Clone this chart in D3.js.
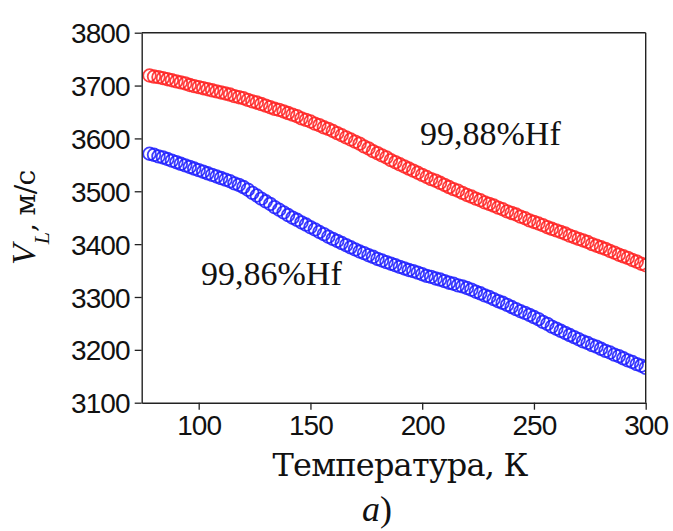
<!DOCTYPE html>
<html>
<head>
<meta charset="utf-8">
<script src="https://cdn.jsdelivr.net/npm/d3@7"></script>
<style>
  html, body { margin: 0; padding: 0; background: #fff; }
  svg { display: block; }
</style>
</head>
<body>
<svg id="chart" width="673" height="531"></svg>
<script>
// Longitudinal sound velocity of hafnium vs temperature, two purities
const temperature = [
  78, 80, 82, 84, 86, 88, 90, 92, 94, 96, 98, 100, 102, 104, 106, 108, 110, 112, 114, 116,
  118, 120, 122, 124, 126, 128, 130, 132, 134, 136, 138, 140, 142, 144, 146, 148, 150, 152,
  154, 156, 158, 160, 162, 164, 166, 168, 170, 172, 174, 176, 178, 180, 182, 184, 186, 188,
  190, 192, 194, 196, 198, 200, 202, 204, 206, 208, 210, 212, 214, 216, 218, 220, 222, 224,
  226, 228, 230, 232, 234, 236, 238, 240, 242, 244, 246, 248, 250, 252, 254, 256, 258, 260,
  262, 264, 266, 268, 270, 272, 274, 276, 278, 280, 282, 284, 286, 288, 290, 292, 294, 296,
  298, 300
];

const velocityHf9988 = [
  3719, 3717, 3716, 3714, 3712, 3710, 3708, 3706, 3704, 3701, 3699, 3697, 3695, 3693, 3691, 3689, 3687, 3685, 3683, 3680,
  3678, 3676, 3673, 3670, 3668, 3665, 3662, 3659, 3656, 3654, 3651, 3648, 3645, 3642, 3638, 3635, 3632, 3628,
  3625, 3621, 3618, 3614, 3610, 3606, 3602, 3598, 3594, 3590, 3585, 3581, 3576, 3572, 3568, 3564, 3559, 3555,
  3551, 3547, 3543, 3539, 3535, 3531, 3527, 3523, 3520, 3516, 3512, 3508, 3504, 3501, 3497, 3493, 3490, 3486,
  3483, 3479, 3476, 3473, 3469, 3466, 3462, 3459, 3456, 3452, 3449, 3445, 3442, 3439, 3436, 3432, 3429, 3426,
  3423, 3420, 3416, 3413, 3410, 3407, 3404, 3400, 3397, 3394, 3391, 3387, 3384, 3380, 3377, 3374, 3370, 3367,
  3363, 3360
];

const velocityHf9986 = [
  3571, 3569, 3566, 3564, 3561, 3558, 3555, 3552, 3549, 3546, 3543, 3540, 3537, 3534, 3531, 3528, 3525, 3522, 3519, 3515,
  3512, 3508, 3503, 3497, 3492, 3486, 3481, 3476, 3470, 3465, 3460, 3455, 3450, 3446, 3441, 3437, 3432, 3428,
  3423, 3419, 3414, 3410, 3406, 3402, 3398, 3394, 3390, 3386, 3383, 3379, 3376, 3372, 3369, 3366, 3363, 3360,
  3357, 3354, 3351, 3349, 3346, 3343, 3340, 3338, 3335, 3333, 3330, 3327, 3325, 3322, 3320, 3317, 3314, 3310,
  3307, 3303, 3300, 3296, 3292, 3289, 3285, 3281, 3277, 3273, 3270, 3266, 3262, 3258, 3253, 3249, 3244, 3240,
  3236, 3232, 3228, 3224, 3220, 3216, 3213, 3209, 3206, 3202, 3198, 3195, 3191, 3188, 3184, 3180, 3177, 3173,
  3170, 3166
];

const seriesNames = ["99,88%Hf", "99,86%Hf"];
const xTicks = [100, 150, 200, 250, 300];
const yTicks = [3100, 3200, 3300, 3400, 3500, 3600, 3700, 3800];
const xTitle = "Температура, К";
const yUnit = ", м/с";
const panelLabel = "а";

const svg = d3.select("#chart");
const plot = { left: 141.7, right: 645.7, top: 32.7, bottom: 402.7 };

const x = d3.scaleLinear().domain([74.5, 300]).range([plot.left, plot.right]);
const y = d3.scaleLinear().domain([3100, 3800]).range([plot.bottom, plot.top]);

svg.append("defs").append("clipPath").attr("id", "plot-clip")
  .append("rect")
  .attr("x", plot.left).attr("y", plot.top)
  .attr("width", plot.right - plot.left).attr("height", plot.bottom - plot.top);

// open-circle markers
const series = [
  { values: velocityHf9988, color: "#ff2020" },
  { values: velocityHf9986, color: "#1c1cff" }
];
const marks = svg.append("g").attr("clip-path", "url(#plot-clip)");
series.forEach(s => {
  marks.append("g")
    .selectAll("circle")
    .data(temperature.map((t, i) => [t, s.values[i]]))
    .join("circle")
    .attr("cx", d => x(d[0]))
    .attr("cy", d => y(d[1]))
    .attr("r", 6.3)
    .attr("fill", "none")
    .attr("stroke", s.color)
    .attr("stroke-width", 1.8)
    .attr("stroke-opacity", 0.85);
});

// axes
const axisColor = "#222";
const tickFont = "'Liberation Sans', Arial, sans-serif";

const xAxis = svg.append("g")
  .attr("transform", `translate(0,${plot.bottom})`)
  .call(d3.axisBottom(x).tickValues(xTicks).tickFormat(d3.format("d"))
    .tickSize(7).tickPadding(4).tickSizeOuter(0));
const yAxis = svg.append("g")
  .attr("transform", `translate(${plot.left},0)`)
  .call(d3.axisLeft(y).tickValues(yTicks).tickFormat(d3.format("d"))
    .tickSize(7).tickPadding(5).tickSizeOuter(0));

[xAxis, yAxis].forEach(g => {
  g.select(".domain").attr("stroke", axisColor).attr("stroke-width", 1.4);
  g.selectAll(".tick line").attr("stroke", axisColor).attr("stroke-width", 1.3);
  g.selectAll(".tick text")
    .attr("fill", "#111")
    .style("font-family", tickFont)
    .style("font-size", "28px")
    .style("letter-spacing", "-0.9px");
});
xAxis.selectAll(".tick text").attr("dy", "0.76em");
yAxis.selectAll(".tick text").attr("dy", "0.36em");

// top and right frame lines
svg.append("line")
  .attr("x1", plot.left).attr("x2", plot.right)
  .attr("y1", plot.top).attr("y2", plot.top)
  .attr("stroke", axisColor).attr("stroke-width", 1.4);
svg.append("line")
  .attr("x1", plot.right).attr("x2", plot.right)
  .attr("y1", plot.top).attr("y2", plot.bottom)
  .attr("stroke", axisColor).attr("stroke-width", 1.4);

const serif = "'Liberation Serif', serif";
const serifCyr = "'DejaVu Serif', serif";

// series labels
svg.append("text")
  .attr("x", 420).attr("y", 145)
  .style("font-family", serif).style("font-size", "34px").attr("fill", "#111")
  .text(seriesNames[0]);
svg.append("text")
  .attr("x", 201).attr("y", 285)
  .style("font-family", serif).style("font-size", "34px").attr("fill", "#111")
  .text(seriesNames[1]);

// x title
svg.append("text")
  .attr("x", 400).attr("y", 476)
  .attr("text-anchor", "middle")
  .style("font-family", serifCyr).style("font-size", "32px")
  .style("letter-spacing", "-0.8px").attr("fill", "#111")
  .text(xTitle);

// y title: V_L, м/с
const yTitle = svg.append("text")
  .attr("transform", `translate(35,${(plot.top + plot.bottom) / 2}) rotate(-90)`)
  .attr("text-anchor", "middle")
  .style("font-family", serif).style("font-size", "34px").attr("fill", "#111");
yTitle.append("tspan").style("font-style", "italic").text("V");
yTitle.append("tspan").style("font-style", "italic").style("font-size", "22px").attr("dy", 14).text("L");
yTitle.append("tspan").attr("dy", -14)
  .style("font-family", serifCyr).style("font-size", "28px").style("letter-spacing", "-0.6px")
  .text(yUnit);

// panel label
const panel = svg.append("text")
  .attr("x", 377).attr("y", 521)
  .attr("text-anchor", "middle")
  .style("font-family", serif).style("font-size", "36px").attr("fill", "#111");
panel.append("tspan").style("font-style", "italic").text(panelLabel);
panel.append("tspan").text(")");
</script>
</body>
</html>
